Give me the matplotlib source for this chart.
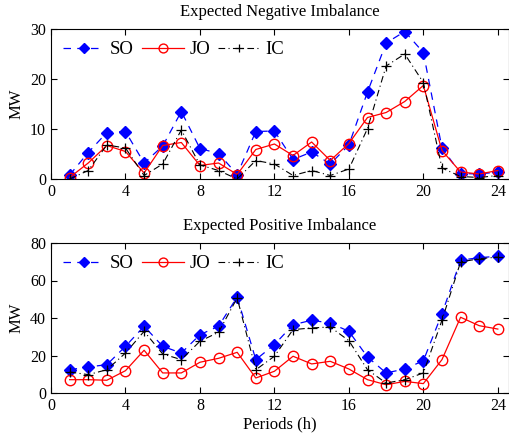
import matplotlib
matplotlib.use("Agg")
import matplotlib.pyplot as plt
import numpy as np

plt.rcParams['font.family'] = ['Liberation Serif', 'DejaVu Serif']
plt.rcParams['mathtext.fontset'] = 'stix'

periods = list(range(1, 25))

neg_SO = [0.8, 5.3, 9.3, 9.5, 3.2, 6.6, 13.5, 6.1, 5.1, 0.9, 9.5, 9.6,
          3.9, 5.4, 3.0, 6.8, 17.4, 27.2, 29.5, 25.3, 6.2, 1.1, 1.0, 1.4]
neg_JO = [0.3, 3.2, 6.7, 5.5, 1.2, 6.7, 7.3, 2.7, 3.2, 0.9, 5.9, 7.0,
          4.7, 7.4, 3.7, 7.1, 12.3, 13.3, 15.5, 18.7, 5.7, 1.4, 1.0, 1.7]
neg_IC = [0.0, 1.7, 6.8, 6.2, 0.7, 3.0, 9.8, 2.8, 1.7, 0.0, 3.7, 3.0,
          0.7, 1.7, 0.7, 2.0, 10.1, 22.6, 25.0, 19.3, 2.2, 0.5, 0.3, 0.7]

pos_SO = [12.4, 13.9, 15.1, 24.9, 35.6, 24.9, 21.3, 31.1, 35.6, 51.2, 17.8, 25.8,
          36.4, 38.8, 37.3, 32.9, 19.2, 10.7, 12.8, 17.2, 42.3, 70.8, 72.2, 72.9]
pos_JO = [7.1, 7.1, 6.8, 11.9, 22.8, 10.7, 10.7, 16.4, 18.5, 21.7, 8.0, 11.6,
          19.6, 15.5, 16.9, 12.8, 7.1, 4.4, 6.2, 5.0, 17.8, 40.4, 35.9, 34.1]
pos_IC = [11.2, 9.8, 12.4, 21.3, 32.9, 20.8, 17.8, 27.6, 32.4, 50.7, 12.4, 19.6,
          33.8, 34.7, 35.2, 27.9, 12.4, 5.3, 7.1, 10.7, 38.8, 69.9, 71.6, 72.5]

titles = ["Expected Negative Imbalance", "Expected Positive Imbalance"]
xticks = [0, 4, 8, 12, 16, 20, 24]

fig = plt.figure(figsize=(5.10, 4.37), dpi=100)
W, H = 510, 437
ax1 = fig.add_axes([51 / W, 1 - 179 / H, 458 / W, 150 / H])
ax2 = fig.add_axes([51 / W, 1 - 393 / H, 458 / W, 150 / H])

def draw(ax, so, jo, ic, ylim, yticks, title):
    ax.plot(periods, so, color='blue', linestyle=(0, (6, 5)), linewidth=0.9,
            marker='D', markersize=6.5, markerfacecolor='blue', markeredgecolor='blue', label='SO')
    ax.plot(periods, jo, color='red', linestyle='-', linewidth=0.9,
            marker='o', markersize=7.5, markerfacecolor='none', markeredgecolor='red', label='JO')
    ax.plot(periods, ic, color='black', linestyle=(0, (6, 3, 1, 3)), linewidth=0.8,
            marker='+', markersize=7.5, markeredgewidth=0.9, label='IC')
    ax.set_xlim(0, 24.6)
    ax.set_ylim(*ylim)
    ax.set_xticks(xticks)
    ax.set_yticks(yticks)
    ax.tick_params(direction='in', top=True, right=True, labelsize=11.5, length=4)
    ax.set_ylabel('MW', fontsize=12)
    ax.set_title(title, fontsize=12, pad=9)
    ax.legend(loc='upper left', ncol=3, frameon=False, fontsize=13.5,
              markerscale=0.85, handlelength=2.2, columnspacing=0.45,
              handletextpad=0.3, borderaxespad=0.25, borderpad=0.4)

draw(ax1, neg_SO, neg_JO, neg_IC, (0, 30), [0, 10, 20, 30], titles[0])
draw(ax2, pos_SO, pos_JO, pos_IC, (0, 80), [0, 20, 40, 60, 80], titles[1])
ax2.set_xlabel('Periods (h)', fontsize=12, labelpad=2)

fig.savefig('out.png', dpi=100)
